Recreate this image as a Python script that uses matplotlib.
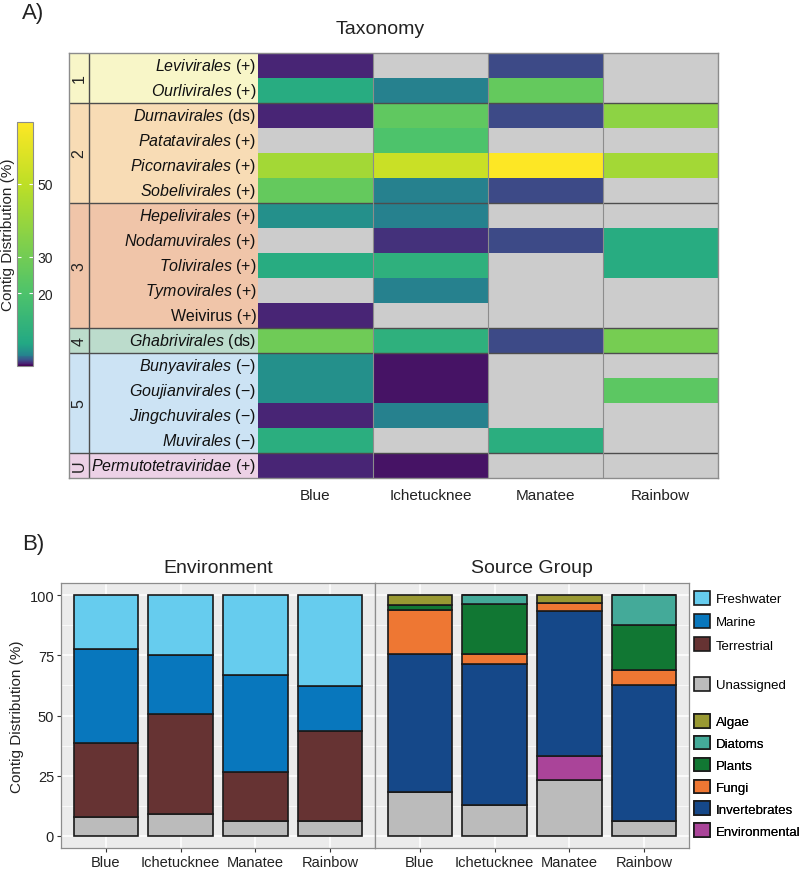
import numpy as np
import matplotlib
matplotlib.use("Agg")
import matplotlib.pyplot as plt
from matplotlib.colors import LinearSegmentedColormap, Normalize
from matplotlib.patches import Rectangle, Patch
from matplotlib.cm import ScalarMappable

plt.rcParams['font.family'] = ['Liberation Sans', 'DejaVu Sans']
plt.rcParams['mathtext.fontset'] = 'custom'
plt.rcParams['mathtext.it'] = 'Liberation Sans:italic'
plt.rcParams['mathtext.rm'] = 'Liberation Sans'

# ---- panel A data ----
sites = ["Blue", "Ichetucknee", "Manatee", "Rainbow"]
orders = ["Levivirales", "Ourlivirales", "Durnavirales", "Patatavirales", "Picornavirales",
          "Sobelivirales", "Hepelivirales", "Nodamuvirales", "Tolivirales", "Tymovirales",
          "Weivirus", "Ghabrivirales", "Bunyavirales", "Goujianvirales", "Jingchuvirales",
          "Muvirales", "Permutotetraviridae"]
genome = ["(+)", "(+)", "(ds)", "(+)", "(+)", "(+)", "(+)", "(+)", "(+)", "(+)", "(+)",
          "(ds)", "(\u2212)", "(\u2212)", "(\u2212)", "(\u2212)", "(+)"]
italic = [True] * 10 + [False] + [True] * 6
groups = ["1", "2", "3", "4", "5", "U"]
group_sizes = [2, 4, 5, 1, 4, 1]
group_colors = ["#f8f6c8", "#f8dcb5", "#f0c5a9", "#bcdccc", "#cce3f4", "#ecd1e6"]

nan = np.nan
blue_pct = [0.6, 8, 0.6, nan, 43, 26, 4, nan, 8, nan, 0.6, 29, 4, 4, 0.6, 9, 0.6]
ichetucknee_pct = [nan, 3, 25, 20, 53, 3, 3, 1.0, 10, 3, nan, 10, 0.3, 0.3, 3, nan, 0.3]
manatee_pct = [1.5, 26, 1.5, nan, 67, 1.5, nan, 1.5, nan, nan, nan, 1.5, nan, nan, nan, 9, nan]
rainbow_pct = [nan, nan, 37, nan, 43, nan, nan, 8, 8, nan, nan, 31, nan, 24, nan, nan, nan]

cbar_ticks = [20, 30, 50]

# ---- panel B data ----
bar_sites = ["Blue", "Ichetucknee", "Manatee", "Rainbow"]
env_names = ["Unassigned", "Terrestrial", "Marine", "Freshwater"]
env_unassigned = [7.9, 9.0, 6.4, 6.1]
env_terrestrial = [30.7, 41.5, 20.2, 37.5]
env_marine = [38.9, 24.7, 40.1, 18.8]
env_freshwater = [22.5, 24.8, 33.3, 37.6]

src_names = ["Unassigned", "Environmental", "Invertebrates", "Fungi", "Plants", "Diatoms", "Algae"]
src_unassigned = [18.4, 13.0, 23.2, 6.2]
src_environmental = [0, 0, 10.1, 0]
src_invertebrates = [57.3, 58.5, 60.1, 56.3]
src_fungi = [18.2, 3.9, 3.3, 6.2]
src_plants = [1.8, 20.7, 0, 19.0]
src_diatoms = [0, 3.9, 0, 12.3]
src_algae = [4.3, 0, 3.3, 0]

colors = {"Freshwater": "#66ccee", "Marine": "#0877bd", "Terrestrial": "#663333",
          "Unassigned": "#bbbbbb", "Algae": "#999933", "Diatoms": "#44aa99",
          "Plants": "#117733", "Fungi": "#ee7733", "Invertebrates": "#154889",
          "Environmental": "#aa4499"}

W, H = 800, 870
fig = plt.figure(figsize=(8, 8.7), dpi=100)


def box(x0, y0, x1, y1):
    return [x0 / W, 1 - y1 / H, (x1 - x0) / W, (y1 - y0) / H]


# stretched viridis like the ggplot scale
vir = plt.get_cmap("viridis")
vmax = 67
nodes_v = [0, 0.5, 1.5, 3, 6, 20, 50, 67]
nodes_p = [0, 0.1, 0.25, 0.45, 0.6, 0.72, 0.9, 1.0]
cmap = LinearSegmentedColormap.from_list(
    "stretch", [(v / vmax, vir(p)) for v, p in zip(nodes_v, nodes_p)])
cmap.set_bad("#cccccc")
norm = Normalize(0, vmax)

# ---- heatmap ----
ax = fig.add_axes(box(69, 54, 718, 479))
colw = 115.0
xmin = -189 / colw
xgrp = -169 / colw
nrow = len(orders)
mat = np.ma.masked_invalid(np.array([blue_pct, ichetucknee_pct, manatee_pct, rainbow_pct]).T)
ax.pcolormesh(np.arange(5), np.arange(nrow + 1), mat, cmap=cmap, norm=norm)
ax.set_xlim(xmin, 4)
ax.set_ylim(nrow, 0)
ax.set_xticks([])
ax.set_yticks([])

start = 0
for g, n, c in zip(groups, group_sizes, group_colors):
    ax.add_patch(Rectangle((xmin, start), -xmin, n, facecolor=c, edgecolor="none"))
    ax.text((xmin + xgrp) / 2, start + n / 2, g, rotation=90, ha="center", va="center",
            fontsize=11.5, color="#222222")
    start += n
    if start < nrow:
        ax.plot([xmin, 4], [start, start], color="#4d4d4d", lw=1.0)

ax.plot([xgrp, xgrp], [0, nrow], color="#4d4d4d", lw=1.0)
for i in range(1, 4):
    ax.plot([i, i], [0, nrow], color="#8c8c8c", lw=0.8)
for s in ax.spines.values():
    s.set_color("#8c8c8c")
    s.set_linewidth(1.0)

for i, (o, gt, it) in enumerate(zip(orders, genome, italic)):
    lab = (r"$\mathit{" + o + "}$ " + gt) if it else (o + " " + gt)
    ax.text(-0.015, i + 0.5, lab, ha="right", va="center", fontsize=11.5, color="#111111")

for i, s in enumerate(sites):
    ax.text(i + 0.5, nrow + 0.68, s, ha="center", va="center", fontsize=11, color="#222222")

fig.text(380 / W, 1 - 29 / H, "Taxonomy", ha="center", va="center", fontsize=14, color="#222222")
fig.text(22 / W, 1 - 14 / H, "A)", ha="left", va="center", fontsize=16, color="#222222")

# colorbar
cax = fig.add_axes(box(17, 123, 33, 367))
cb = fig.colorbar(ScalarMappable(norm=norm, cmap=cmap), cax=cax)
cb.set_ticks(cbar_ticks)
cb.outline.set_edgecolor("#8c8c8c")
cb.outline.set_linewidth(0.8)
cax.tick_params(axis="y", direction="in", color="white", length=3, width=0.8,
                labelsize=10, pad=3, left=True, labelcolor="#222222")
cax.yaxis.set_label_position("left")
cax.set_ylabel("Contig Distribution (%)", fontsize=11, color="#222222")
cax.yaxis.set_label_coords(-0.12, 0.54)

# ---- stacked bars ----
axL = fig.add_axes(box(61, 584, 375, 849))
axR = fig.add_axes(box(375, 584, 689, 849))
x = np.arange(1, 5)
bw = 0.86

env_layers = [env_unassigned, env_terrestrial, env_marine, env_freshwater]
src_layers = [src_unassigned, src_environmental, src_invertebrates, src_fungi,
              src_plants, src_diatoms, src_algae]

for a, names, layers, title in [(axL, env_names, env_layers, "Environment"),
                                (axR, src_names, src_layers, "Source Group")]:
    a.set_facecolor("#ebebeb")
    a.set_axisbelow(True)
    bottom = np.zeros(4)
    for nm, vals in zip(names, layers):
        vals = np.array(vals, dtype=float)
        a.bar(x, vals, bw, bottom=bottom, color=colors[nm], edgecolor="#1a1a1a",
              linewidth=1.2, zorder=3)
        bottom += vals
    a.set_xlim(0.4, 4.6)
    a.set_ylim(-5, 105)
    a.set_yticks([0, 25, 50, 75, 100])
    a.set_yticks([12.5, 37.5, 62.5, 87.5], minor=True)
    a.set_xticks(x)
    a.set_xticklabels(bar_sites)
    a.grid(which="major", color="white", lw=1.1)
    a.grid(which="minor", axis="y", color="white", lw=0.5)
    a.tick_params(which="major", length=3, color="#333333", labelsize=10.5,
                  labelcolor="#222222", pad=2)
    a.tick_params(which="minor", length=0)
    for s in a.spines.values():
        s.set_color("#8c8c8c")
        s.set_linewidth(0.9)
    a.set_title(title, fontsize=14, color="#222222", pad=8)

axR.tick_params(axis="y", left=False, labelleft=False)
axL.set_ylabel("Contig Distribution (%)", fontsize=11, color="#222222", labelpad=4)
fig.text(22 / W, 1 - 545 / H, "B)", ha="left", va="center", fontsize=16, color="#222222")

# legends
def leg(names, top, spacing):
    h = [Patch(facecolor=colors[n], edgecolor="#1a1a1a", lw=1.2, label=n) for n in names]
    l = axR.legend(handles=h, loc="upper left", bbox_to_anchor=(694 / W, 1 - top / H),
                   bbox_transform=fig.transFigure, frameon=False, fontsize=9.5,
                   handlelength=1.2, handleheight=1.2, handletextpad=0.45,
                   labelspacing=spacing, borderpad=0, borderaxespad=0)
    axR.add_artist(l)

leg(["Freshwater", "Marine", "Terrestrial"], 592, 0.68)
leg(["Unassigned"], 678, 0.6)
leg(["Algae", "Diatoms", "Plants", "Fungi", "Invertebrates", "Environmental"], 715, 0.58)

fig.savefig("out.png", dpi=100)
